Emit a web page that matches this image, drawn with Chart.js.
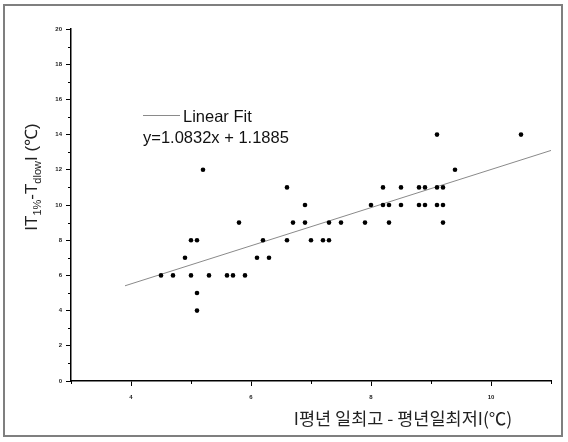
<!DOCTYPE html>
<html>
<head>
<meta charset="utf-8">
<script src="https://cdn.jsdelivr.net/npm/chart.js@4.4.1/dist/chart.umd.min.js"></script>
<style>
    body { margin: 0; background: #fff; }
    #wrap { position: relative; width: 568px; height: 442px; }
    #frame {
        position: absolute; left: 3px; top: 4px; width: 560px; height: 433px;
        border: 2px solid #7f7f7f; box-sizing: border-box; pointer-events: none;
    }
</style>
</head>
<body>
<div id="wrap">
    <canvas id="chart1" width="568" height="442"></canvas>
    <div id="frame"></div>
</div>
<script>
// points
const ptX = [
    5.1,
    5.1,
    4.5, 4.7, 5.0, 5.3, 5.6, 5.7, 5.9,
    4.9, 6.1, 6.3,
    5.0, 5.1, 6.2, 6.6, 7.0, 7.2, 7.3,
    5.8, 6.7, 6.9, 7.3, 7.5, 7.9, 8.3, 9.2,
    6.9, 8.0, 8.2, 8.3, 8.5, 8.8, 8.9, 9.1, 9.2,
    6.6, 8.2, 8.5, 8.8, 8.9, 9.1, 9.2,
    5.2, 9.4,
    9.1, 10.5
];
const ptY = [
    4,
    5,
    6, 6, 6, 6, 6, 6, 6,
    7, 7, 7,
    8, 8, 8, 8, 8, 8, 8,
    9, 9, 9, 9, 9, 9, 9, 9,
    10, 10, 10, 10, 10, 10, 10, 10, 10,
    11, 11, 11, 11, 11, 11, 11,
    12, 12,
    14, 14
];

// ends of the fit line as drawn
const fitX = [3.9, 11];
const fitY = [5.41, 13.10];

const xMajor = [4, 6, 8, 10];
const xMinor = [3, 5, 7, 9, 11];
const yMinor = [1, 3, 5, 7, 9, 11, 13, 15, 17, 19];

const legendLabel = 'Linear Fit';
const fitText = 'y=1.0832x + 1.1885';
const xTitle = 'I평년 일최고 - 평년일최저I(℃)';

var puntos = [];
for (var i = 0; i < ptX.length; i++) {
    puntos.push({ x: ptX[i], y: ptY[i] });
}
var linea = [];
for (var j = 0; j < fitX.length; j++) {
    linea.push({ x: fitX[j], y: fitY[j] });
}

const extras = {
    id: 'extras',
    afterDraw: function (chart) {
        const ctx = chart.ctx;
        const xs = chart.scales.x;
        const ys = chart.scales.y;
        const area = chart.chartArea;

        // minor ticks
        ctx.save();
        ctx.strokeStyle = '#000';
        ctx.lineWidth = 1;
        ctx.beginPath();
        xMinor.forEach(function (v) {
            var px = Math.round(xs.getPixelForValue(v)) + 0.5;
            ctx.moveTo(px, area.bottom);
            ctx.lineTo(px, area.bottom + 3);
        });
        yMinor.forEach(function (v) {
            var py = Math.round(ys.getPixelForValue(v)) + 0.5;
            ctx.moveTo(area.left - 3, py);
            ctx.lineTo(area.left, py);
        });
        ctx.stroke();

        // legend
        ctx.strokeStyle = '#8a8a8a';
        ctx.beginPath();
        ctx.moveTo(143, 115.5);
        ctx.lineTo(180, 115.5);
        ctx.stroke();
        ctx.fillStyle = '#111';
        ctx.font = '16.5px "Liberation Sans", Arial, sans-serif';
        ctx.textBaseline = 'alphabetic';
        ctx.textAlign = 'left';
        ctx.fillText(legendLabel, 183, 122);
        ctx.fillText(fitText, 143, 142.5);

        // x title
        ctx.font = '17.5px "Noto Sans CJK KR", sans-serif';
        ctx.textAlign = 'center';
        ctx.textBaseline = 'middle';
        ctx.fillStyle = '#222';
        ctx.fillText(xTitle, 403, 418);

        // y title with subscripts
        const big = '17px "Liberation Sans", Arial, sans-serif';
        const small = '11px "Liberation Sans", Arial, sans-serif';
        const partes = [
            ['IT', big, 0],
            ['1%', small, 4],
            ['-T', big, 0],
            ['dlow', small, 4],
            ['I ', big, 0],
            ['(℃)', big, 0]
        ];
        var total = 0;
        partes.forEach(function (p) {
            ctx.font = p[1];
            total += ctx.measureText(p[0]).width;
        });
        ctx.translate(37, 177);
        ctx.rotate(-Math.PI / 2);
        ctx.textAlign = 'left';
        ctx.textBaseline = 'alphabetic';
        var cx = -total / 2;
        partes.forEach(function (p) {
            ctx.font = p[1];
            ctx.fillText(p[0], cx, p[2]);
            cx += ctx.measureText(p[0]).width;
        });
        ctx.restore();
    }
};

const tickFont = { family: '"Liberation Sans", Arial, sans-serif', size: 6, weight: 'bold' };

const dat = {
    datasets: [{
        type: 'scatter',
        label: 'datos',
        data: puntos,
        backgroundColor: '#000',
        borderWidth: 0,
        pointRadius: 2.3,
        order: 0
    }, {
        type: 'line',
        label: legendLabel,
        data: linea,
        borderColor: '#8a8a8a',
        borderWidth: 1,
        pointRadius: 0,
        fill: false,
        order: 1
    }]
};

const config = {
    type: 'scatter',
    data: dat,
    options: {
        responsive: false,
        animation: false,
        devicePixelRatio: 1,
        layout: { padding: { top: 29, right: 17, left: 0, bottom: 0 } },
        plugins: {
            legend: { display: false },
            tooltip: { enabled: false }
        },
        scales: {
            x: {
                type: 'linear',
                min: 3,
                max: 11,
                afterBuildTicks: function (s) {
                    s.ticks = xMajor.map(function (v) { return { value: v }; });
                },
                afterFit: function (s) { s.height = 61; },
                grid: { drawOnChartArea: false, tickLength: 5, tickColor: '#000' },
                border: { color: '#000', width: 1.5 },
                ticks: { font: tickFont, color: '#222', padding: 8, maxRotation: 0 }
            },
            y: {
                type: 'linear',
                min: 0,
                max: 20,
                afterFit: function (s) { s.width = 71; },
                grid: { drawOnChartArea: false, tickLength: 5, tickColor: '#000' },
                border: { color: '#000', width: 1.5 },
                ticks: { stepSize: 2, font: tickFont, color: '#222', padding: 4 }
            }
        }
    },
    plugins: [extras]
};

const myChart = new Chart(
    document.getElementById('chart1'),
    config
);
</script>
</body>
</html>
